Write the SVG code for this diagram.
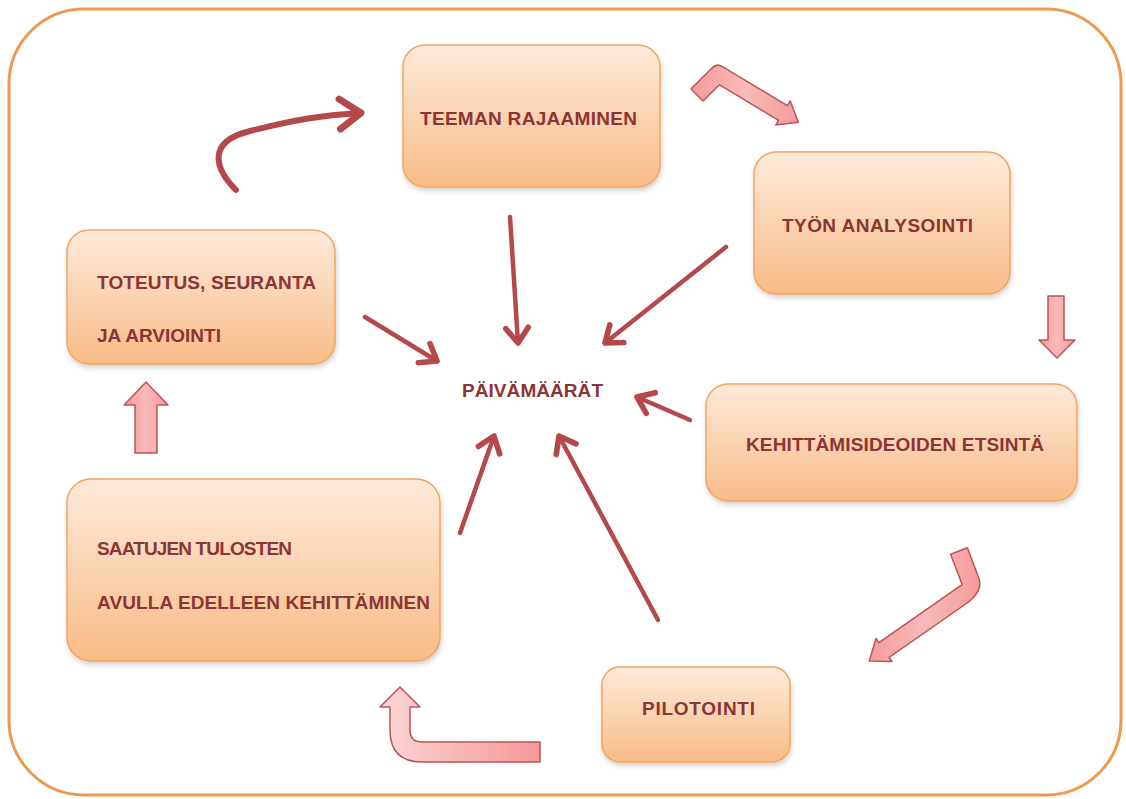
<svg xmlns="http://www.w3.org/2000/svg" width="1126" height="799" viewBox="0 0 1126 799">
<defs>
<linearGradient id="nodeGrad" x1="0" y1="0" x2="0" y2="1">
<stop offset="0" stop-color="#FDEADB"/>
<stop offset="1" stop-color="#F9BC86"/>
</linearGradient>
<linearGradient id="pinkH" x1="0" y1="0" x2="1" y2="0">
<stop offset="0" stop-color="#FDD6D6"/>
<stop offset="1" stop-color="#F69898"/>
</linearGradient>
<linearGradient id="pinkV" x1="0" y1="0" x2="1" y2="0">
<stop offset="0" stop-color="#F59A9A"/>
<stop offset="0.5" stop-color="#FABABA"/>
<stop offset="1" stop-color="#F59A9A"/>
</linearGradient>
<filter id="shadow" x="-10%" y="-10%" width="120%" height="130%">
<feDropShadow dx="1" dy="3" stdDeviation="2.5" flood-color="#000" flood-opacity="0.18"/>
</filter>
<marker id="head" markerUnits="userSpaceOnUse" markerWidth="30" markerHeight="30" viewBox="-16 -12 20 24" refX="0" refY="0" orient="auto" overflow="visible">
<path d="M-12,-9 L0,0 L-12,9" fill="none" stroke="#B5484A" stroke-width="4.5" stroke-linecap="round" stroke-linejoin="round"/>
</marker>
<marker id="headBig" markerUnits="userSpaceOnUse" markerWidth="40" markerHeight="40" viewBox="-20 -16 26 32" refX="0" refY="0" orient="auto" overflow="visible">
<path d="M-17,-12 L0,0 L-17,12" fill="none" stroke="#B5484A" stroke-width="5.5" stroke-linecap="round" stroke-linejoin="round"/>
</marker>
</defs>
<style>
.node{fill:url(#nodeGrad);stroke:#F2A460;stroke-width:1.5;filter:url(#shadow)}
.lbl{font-family:"Liberation Sans",Arial,sans-serif;font-weight:bold;font-size:19px;fill:#8B3535}
.conn{fill:none;stroke:#B5484A;stroke-width:4.5;stroke-linecap:round;marker-end:url(#head)}
.curve{fill:none;stroke:#B5484A;stroke-width:6;stroke-linecap:round;marker-end:url(#headBig)}
.block{stroke:#B85557;stroke-width:1.5;stroke-linejoin:round}
</style>
<rect x="9" y="9" width="1112" height="786" rx="75" ry="75" fill="#FFFFFF" stroke="#EE9A4E" stroke-width="3"/>

<g id="connectors">
<path class="conn" d="M510,217 L518,343"/>
<path class="conn" d="M726,247 L605,343"/>
<path class="conn" d="M365,317 L437,361"/>
<path class="conn" d="M690,420 L637,397"/>
<path class="conn" d="M460,533 L494,436"/>
<path class="conn" d="M658,620 L559,436"/>
<path class="curve" d="M236,190 C216,170 205,142 250,131 C290,121 320,115 361,113"/>
<path class="block" fill="url(#pinkV)" d="M691,89 L712,68 Q717,63 722.4,66.7 L787.4,105.7 L790.2,101 L798.4,122.3 L775.8,125 L778.6,120.3 L719.3,84.7 L703,101 Z"/>
<path class="block" fill="url(#pinkV)" d="M1048,296 L1064,296 L1064,340 L1075,340 L1057,358 L1039,340 L1048,340 Z"/>
<path class="block" fill="url(#pinkV)" d="M967.4,547.8 L978.7,577.7 Q983.9,591.4 965,604.5 L889.1,657.4 L892,661.5 L869.2,661 L876,638.5 L878.9,642.6 L962.1,584.6 L950.6,554.2 Z"/>
<path class="block" fill="url(#pinkH)" d="M540,742 L422,742 Q410,742 410,730 L410,707 L420,707 L400,687 L380,707 L390,707 L390,730 Q390,762 422,762 L540,762 Z"/>
<path class="block" fill="url(#pinkV)" d="M135,453 L157,453 L157,405 L168,405 L146,382 L124,405 L135,405 Z"/>
</g>

<g id="node-teeman">
<rect class="node" x="403" y="45" width="257" height="142" rx="22" ry="22"/>
<text class="lbl" x="420" y="125" textLength="217">TEEMAN RAJAAMINEN</text>
</g>
<g id="node-tyon">
<rect class="node" x="754" y="152" width="256" height="142" rx="22" ry="22"/>
<text class="lbl" x="782" y="232" textLength="191">TYÖN ANALYSOINTI</text>
</g>
<g id="node-toteutus">
<rect class="node" x="67" y="230" width="268" height="134" rx="22" ry="22"/>
<text class="lbl" x="97" y="289" textLength="219">TOTEUTUS, SEURANTA</text>
<text class="lbl" x="97" y="342" textLength="124">JA ARVIOINTI</text>
</g>
<g id="node-paivamaarat">
<text class="lbl" x="462" y="397" textLength="141">PÄIVÄMÄÄRÄT</text>
</g>
<g id="node-kehittamis">
<rect class="node" x="706" y="384" width="371" height="117" rx="22" ry="22"/>
<text class="lbl" x="746" y="451" textLength="298">KEHITTÄMISIDEOIDEN ETSINTÄ</text>
</g>
<g id="node-saatujen">
<rect class="node" x="67" y="479" width="373" height="182" rx="24" ry="24"/>
<text class="lbl" x="97" y="555" textLength="195">SAATUJEN TULOSTEN</text>
<text class="lbl" x="97" y="609" textLength="333">AVULLA EDELLEEN KEHITTÄMINEN</text>
</g>
<g id="node-pilotointi">
<rect class="node" x="602" y="667" width="188" height="95" rx="18" ry="18"/>
<text class="lbl" x="642" y="715" textLength="113">PILOTOINTI</text>
</g>
</svg>
